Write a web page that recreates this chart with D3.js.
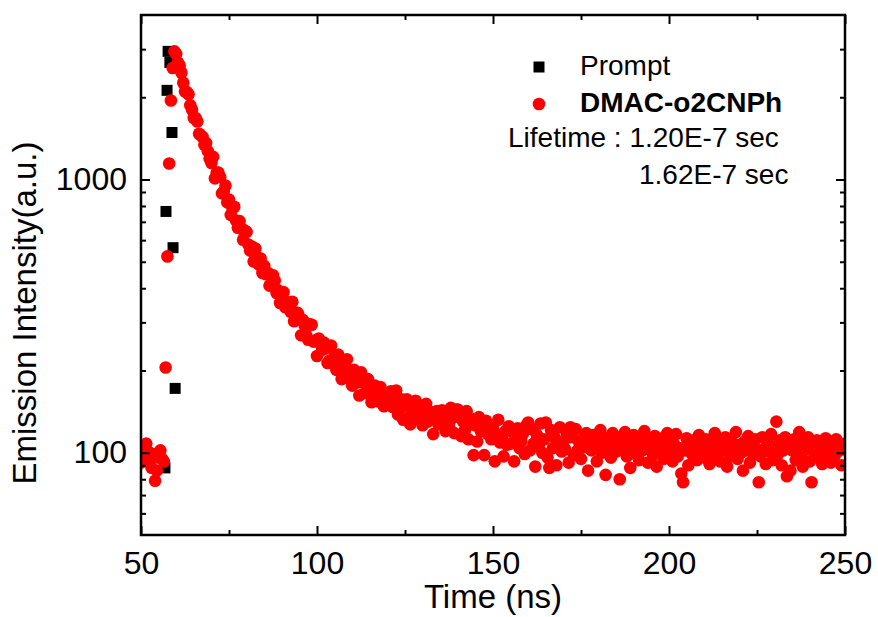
<!DOCTYPE html>
<html>
<head>
<meta charset="utf-8">
<script src="https://cdn.jsdelivr.net/npm/d3@7"></script>
<style>
	body { margin: 0; background: #fff; }
	svg text { font-family: Arial, "Liberation Sans", sans-serif; fill: #000; }
</style>
</head>
<body>
<svg id="decay-plot" width="878" height="617"></svg>
<script>

// axis ticks
const xMajor = [50, 100, 150, 200, 250];
const xMinor = [75, 125, 175, 225];
const yMajor = [100, 1000];
const yMinor = [60, 70, 80, 90, 200, 300, 400, 500, 600, 700, 800, 900, 2000, 3000];

// instrument response (Prompt)
const promptTime = [56.8, 57.1, 57.4, 57.7, 58.2, 58.8, 59.1, 59.7];
const promptCounts = [88, 764, 2120, 2944, 2680, 1486, 563, 172];

// DMAC-o2CNPh decay, one value per 0.5 ns channel starting at 50 ns
const channelStart = 50;
const channelWidth = 0.5;
const sampleCounts = [
	92, 104, 97, 108, 101, 94, 88, 99, 79, 86,
	96, 102, 95, 93, 205, 523, 1144, 1947, 2560, 2944,
	2880, 2680, 2610, 2460, 2260, 2100, 2090, 2050, 1870, 1800,
	1680, 1680, 1630, 1470, 1450, 1430, 1340, 1360, 1270, 1190,
	1150, 1210, 1010, 1060, 1060, 1020, 890, 905, 950, 825,
	845, 742, 784, 795, 708, 666, 704, 660, 602, 650,
	643, 578, 549, 568, 501, 559, 520, 488, 514, 455,
	483, 450, 456, 409, 415, 446, 427, 384, 393, 353,
	381, 387, 341, 351, 355, 328, 357, 303, 312, 325,
	314, 269, 306, 292, 268, 259, 295, 294, 255, 258,
	226, 262, 250, 238, 253, 241, 213, 217, 247, 218,
	225, 201, 229, 212, 186, 197, 210, 220, 187, 194,
	176, 201, 192, 181, 162, 197, 181, 165, 182, 186,
	166, 153, 167, 176, 169, 154, 174, 163, 148, 165,
	164, 152, 168, 147, 154, 169, 138, 145, 157, 132,
	149, 157, 135, 127, 148, 141, 155, 133, 137, 149,
	126, 141, 151, 130, 133, 141, 117, 135, 142, 127,
	128, 143, 136, 120, 132, 125, 146, 134, 118, 144,
	144, 138, 115, 130, 121, 142, 112, 127, 133, 98,
	126, 110, 135, 120, 123, 98, 131, 117, 124, 112,
	123, 93, 116, 132, 109, 113, 97, 120, 107, 125,
	108, 119, 93, 114, 123, 104, 110, 117, 99, 126,
	129, 102, 122, 108, 89, 116, 106, 128, 100, 112,
	129, 96, 88, 121, 104, 114, 90, 108, 124, 101,
	110, 103, 117, 92, 124, 114, 98, 122, 102, 109,
	95, 112, 105, 118, 86, 108, 102, 116, 104, 93,
	111, 121, 100, 106, 83, 113, 103, 96, 118, 107,
	101, 114, 80, 109, 104, 119, 97, 111, 88, 105,
	116, 99, 108, 94, 112, 102, 120, 105, 92, 110,
	104, 98, 115, 89, 109, 102, 113, 95, 106, 118,
	100, 111, 93, 107, 117, 97, 104, 84, 78, 102,
	113, 90, 105, 99, 111, 103, 94, 116, 101, 108,
	96, 112, 104, 91, 109, 100, 118, 98, 106, 93,
	111, 102, 114, 89, 105, 97, 109, 103, 119, 95,
	107, 100, 86, 110, 102, 115, 92, 104, 99, 112,
	103, 78, 97, 114, 103, 91, 109, 101, 117, 94,
	105, 130, 99, 111, 90, 102, 114, 82, 108, 86,
	102, 112, 94, 106, 119, 98, 89, 109, 103, 114,
	93, 78, 105, 100, 111, 96, 107, 91, 102, 113,
	99, 109, 92, 104, 97, 112, 101, 106, 90, 103,
	108
];

const seriesNames = ["Prompt", "DMAC-o2CNPh"];
const lifetimeText = ["Lifetime : 1.20E-7 sec", "1.62E-7 sec"];

const svg = d3.select("#decay-plot");
const plot = {left: 141, right: 845, top: 15, bottom: 535};

const x = d3.scaleLinear().domain([50, 250]).range([plot.left, plot.right]);
const y = d3.scaleLog().domain([50, 4000]).range([plot.bottom, plot.top]);

const prompt = promptTime.map((t, i) => ({t: t, v: promptCounts[i]}));
const sample = sampleCounts.map((v, i) => ({t: channelStart + i * channelWidth, v: v}));

svg.append("defs").append("clipPath")
	.attr("id", "plot-clip")
	.append("rect")
	.attr("x", plot.left).attr("y", plot.top)
	.attr("width", plot.right - plot.left).attr("height", plot.bottom - plot.top);

const marks = svg.append("g").attr("clip-path", "url(#plot-clip)");

// squares first, red circles drawn over them
marks.selectAll("rect.prompt")
	.data(prompt)
	.enter()
	.append("rect")
	.attr("class", "prompt")
	.attr("x", d => x(d.t) - 5.5)
	.attr("y", d => y(d.v) - 5.5)
	.attr("width", 11)
	.attr("height", 11)
	.style("fill", "#000");

marks.selectAll("circle.sample")
	.data(sample)
	.enter()
	.append("circle")
	.attr("class", "sample")
	.attr("cx", d => x(d.t))
	.attr("cy", d => y(d.v))
	.attr("r", 6.3)
	.style("fill", "#ff0000");

// axes, ticks pointing inward on all four sides
function styleAxis(g) {
	g.select(".domain").remove();
	g.selectAll("line").attr("stroke", "#000").attr("stroke-width", 2);
	g.attr("font-size", 32).attr("font-family", "Arial, 'Liberation Sans', sans-serif");
}

svg.append("g")
	.attr("transform", "translate(0," + plot.bottom + ")")
	.call(d3.axisBottom(x).tickValues(xMajor).tickFormat(d3.format("d")).tickSize(-9).tickPadding(16))
	.call(styleAxis);
svg.append("g")
	.attr("transform", "translate(0," + plot.bottom + ")")
	.call(d3.axisBottom(x).tickValues(xMinor).tickFormat("").tickSize(-5))
	.call(styleAxis);
svg.append("g")
	.attr("transform", "translate(0," + plot.top + ")")
	.call(d3.axisTop(x).tickValues(xMajor).tickFormat("").tickSize(-9))
	.call(styleAxis);
svg.append("g")
	.attr("transform", "translate(0," + plot.top + ")")
	.call(d3.axisTop(x).tickValues(xMinor).tickFormat("").tickSize(-5))
	.call(styleAxis);

svg.append("g")
	.attr("transform", "translate(" + plot.left + ",0)")
	.call(d3.axisLeft(y).tickValues(yMajor).tickFormat(d3.format("d")).tickSize(-9).tickPadding(14))
	.call(styleAxis);
svg.append("g")
	.attr("transform", "translate(" + plot.left + ",0)")
	.call(d3.axisLeft(y).tickValues(yMinor).tickFormat("").tickSize(-5))
	.call(styleAxis);
svg.append("g")
	.attr("transform", "translate(" + plot.right + ",0)")
	.call(d3.axisRight(y).tickValues(yMajor).tickFormat("").tickSize(-9))
	.call(styleAxis);
svg.append("g")
	.attr("transform", "translate(" + plot.right + ",0)")
	.call(d3.axisRight(y).tickValues(yMinor).tickFormat("").tickSize(-5))
	.call(styleAxis);

// frame
svg.append("rect")
	.attr("x", plot.left).attr("y", plot.top)
	.attr("width", plot.right - plot.left).attr("height", plot.bottom - plot.top)
	.style("fill", "none")
	.style("stroke", "#000")
	.style("stroke-width", 2.5);

// axis titles
svg.append("text")
	.attr("x", (plot.left + plot.right) / 2)
	.attr("y", 608)
	.attr("text-anchor", "middle")
	.attr("font-size", 33)
	.text("Time (ns)");

svg.append("text")
	.attr("transform", "translate(36," + 313 + ") rotate(-90)")
	.attr("text-anchor", "middle")
	.attr("font-size", 33)
	.text("Emission Intensity(a.u.)");

// legend
const legend = svg.append("g").attr("font-size", 28);
legend.append("rect")
	.attr("x", 539 - 5.5).attr("y", 67 - 5.5)
	.attr("width", 11).attr("height", 11)
	.style("fill", "#000");
legend.append("circle")
	.attr("cx", 539).attr("cy", 104).attr("r", 6.3)
	.style("fill", "#ff0000");
legend.append("text").attr("x", 580).attr("y", 75).text(seriesNames[0]);
legend.append("text").attr("x", 580).attr("y", 112).attr("font-weight", "bold").text(seriesNames[1]);
legend.append("text").attr("x", 508).attr("y", 147).text(lifetimeText[0]);
legend.append("text").attr("x", 639).attr("y", 184).text(lifetimeText[1]);

</script>
</body>
</html>
